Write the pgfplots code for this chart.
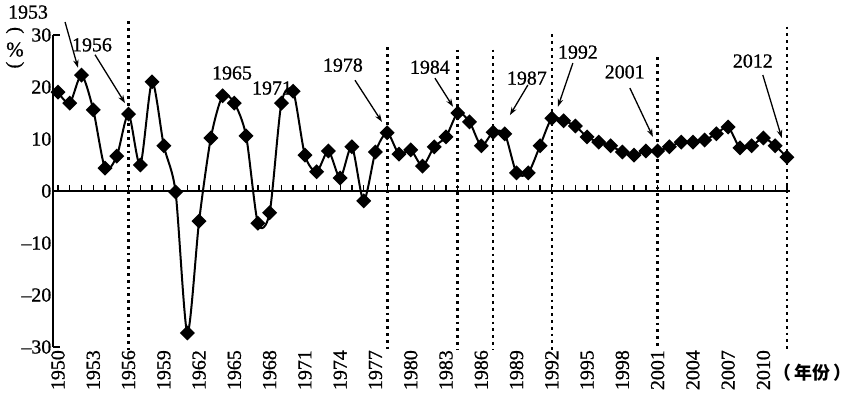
\documentclass[border=0pt]{standalone}
\usepackage{pgfplots}
\pgfplotsset{compat=1.18}
\usepackage{fontspec}
\setmainfont[FakeBold=0.8]{Liberation Serif}
\newfontfamily\cjk{Noto Sans CJK SC}
\usetikzlibrary{arrows.meta}
\begin{document}
\begin{tikzpicture}
\begin{axis}[
  scale only axis, width=737bp, height=312bp,
  xmin=-0.425, xmax=62.26, ymin=-30, ymax=30,
  axis lines*=left,
  x axis line style={draw=none},
  y axis line style={line width=1.4bp},
  major tick length=0pt,
  xtick={0,3,...,60},
  xticklabels={1950,1953,1956,1959,1962,1965,1968,1971,1974,1977,1980,1983,1986,1989,1992,1995,1998,2001,2004,2007,2010},
  xticklabel style={rotate=90, anchor=east, inner sep=3bp},
  ytick={-30,-20,...,30},
  yticklabels={--30,--20,--10,0,10,20,30},
  yticklabel style={inner sep=1.5bp},
  tick label style={font=\fontsize{20}{22}\selectfont},
  tick style={draw=none},
  clip=false,
]
\coordinate (sw) at (rel axis cs:0,0);
% axis line at zero with yearly ticks
\draw[line width=1.4bp] (axis cs:-0.425,0) -- (axis cs:62.26,0);
\pgfplotsinvokeforeach{0,...,62}{\draw[line width=1.3bp] (axis cs:#1,0) -- (axis cs:#1,1.1);}
\draw[line width=1.4bp] (axis cs:-0.425,30) -- (axis cs:0.15,30);
\draw[line width=1.4bp] (axis cs:-0.425,-30) -- (axis cs:0.15,-30);
% dotted reference lines (1956, 1978, 1984, 1987, 1992, 2001, 2012)
\addplot[black, line width=2.6bp, dash pattern=on 2.8bp off 4bp] coordinates {(6,32.6) (6,-30.5)};
\addplot[black, line width=2.6bp, dash pattern=on 2.8bp off 4bp] coordinates {(28,27.6) (28,-30.5)};
\addplot[black, line width=2.6bp, dash pattern=on 2.8bp off 4bp] coordinates {(34,27.2) (34,-30.5)};
\addplot[black, line width=2.6bp, dash pattern=on 2.8bp off 4bp] coordinates {(37,27.2) (37,-30.5)};
\addplot[black, line width=2.6bp, dash pattern=on 2.8bp off 4bp] coordinates {(42,30.1) (42,-30.5)};
\addplot[black, line width=2.6bp, dash pattern=on 2.8bp off 4bp] coordinates {(51,25.7) (51,-30.5)};
\addplot[black, line width=2.6bp, dash pattern=on 2.8bp off 4bp] coordinates {(62,31.6) (62,-31)};
% data: x = year - 1950
\addplot[black, line width=2bp, smooth, tension=0.45, mark=square*, mark size=4.3bp, mark options={rotate=45, solid}] coordinates {
(0,19.0) (1,16.9) (2,22.3) (3,15.6) (4,4.4) (5,6.7) (6,14.8) (7,5.0) (8,21.0) (9,8.7)
(10,-0.2) (11,-27.3) (12,-5.8) (13,10.2) (14,18.3) (15,16.9) (16,10.6) (17,-6.2) (18,-4.2) (19,16.9)
(20,19.2) (21,6.9) (22,3.7) (23,7.7) (24,2.5) (25,8.5) (26,-1.9) (27,7.5) (28,11.2) (29,7.1)
(30,7.9) (31,4.8) (32,8.5) (33,10.4) (34,15.0) (35,13.3) (36,8.7) (37,11.3) (38,11.0) (39,3.5)
(40,3.5) (41,8.7) (42,14.0) (43,13.5) (44,12.5) (45,10.4) (46,9.4) (47,8.7) (48,7.5) (49,6.9)
(50,7.7) (51,7.7) (52,8.5) (53,9.4) (54,9.4) (55,9.8) (56,11.0) (57,12.3) (58,8.3) (59,8.7)
(60,10.2) (61,8.7) (62,6.5)};
% annotations
\node[font=\fontsize{20}{22}\selectfont, inner sep=0pt] at (axis cs:-2.55,34.4) {1953};
\node[font=\fontsize{20}{22}\selectfont, inner sep=0pt] at (axis cs:2.89,28.1) {1956};
\node[font=\fontsize{20}{22}\selectfont, inner sep=0pt] at (axis cs:14.8,22.7) {1965};
\node[font=\fontsize{20}{22}\selectfont, inner sep=0pt] at (axis cs:18.2,19.8) {1971};
\node[font=\fontsize{20}{22}\selectfont, inner sep=0pt] at (axis cs:24.23,24.2) {1978};
\node[font=\fontsize{20}{22}\selectfont, inner sep=0pt] at (axis cs:31.63,23.8) {1984};
\node[font=\fontsize{20}{22}\selectfont, inner sep=0pt] at (axis cs:39.88,21.7) {1987};
\node[font=\fontsize{20}{22}\selectfont, inner sep=0pt] at (axis cs:44.22,26.7) {1992};
\node[font=\fontsize{20}{22}\selectfont, inner sep=0pt] at (axis cs:48.2,22.9) {2001};
\node[font=\fontsize{20}{22}\selectfont, inner sep=0pt] at (axis cs:59.1,25) {2012};
\node[font=\fontsize{20}{22}\selectfont, inner sep=0pt, rotate=-90] at (axis cs:-3.66,30.9) {(};
\node[font=\fontsize{21}{22}\selectfont, inner sep=0pt] at (axis cs:-3.66,27.2) {\%};
\node[font=\fontsize{20}{22}\selectfont, inner sep=0pt, rotate=-90] at (axis cs:-3.66,24.2) {)};
\draw[line width=1.3bp, -{Stealth[length=8bp,width=5.5bp]}] (axis cs:0.6,32.5) -- (axis cs:1.7,23.7);
\draw[line width=1.3bp, -{Stealth[length=8bp,width=5.5bp]}] (axis cs:3.15,26.2) -- (axis cs:5.7,16.9);
\draw[line width=1.3bp, -{Stealth[length=8bp,width=5.5bp]}] (axis cs:25.26,21.3) -- (axis cs:27.55,13.3);
\draw[line width=1.3bp, -{Stealth[length=8bp,width=5.5bp]}] (axis cs:32.06,21.7) -- (axis cs:33.6,16.2);
\draw[line width=1.3bp, -{Stealth[length=8bp,width=5.5bp]}] (axis cs:39.97,20.4) -- (axis cs:38.44,14.6);
\draw[line width=1.3bp, -{Stealth[length=8bp,width=5.5bp]}] (axis cs:43.79,24.6) -- (axis cs:42.52,16.2);
\draw[line width=1.3bp, -{Stealth[length=8bp,width=5.5bp]}] (axis cs:48.64,19.8) -- (axis cs:50.6,10.4);
\draw[line width=1.3bp, -{Stealth[length=8bp,width=5.5bp]}] (axis cs:59.95,22.3) -- (axis cs:61.56,10.2);
\node[font=\cjk\bfseries\fontsize{18}{20}\selectfont, inner sep=0pt] at (axis cs:64.2,-35.0) {（\,年份\,）};
\end{axis}
\pgfresetboundingbox
\path ([shift={(-53bp,-50bp)}]sw) rectangle ([shift={(800bp,347bp)}]sw);
\end{tikzpicture}
\end{document}
